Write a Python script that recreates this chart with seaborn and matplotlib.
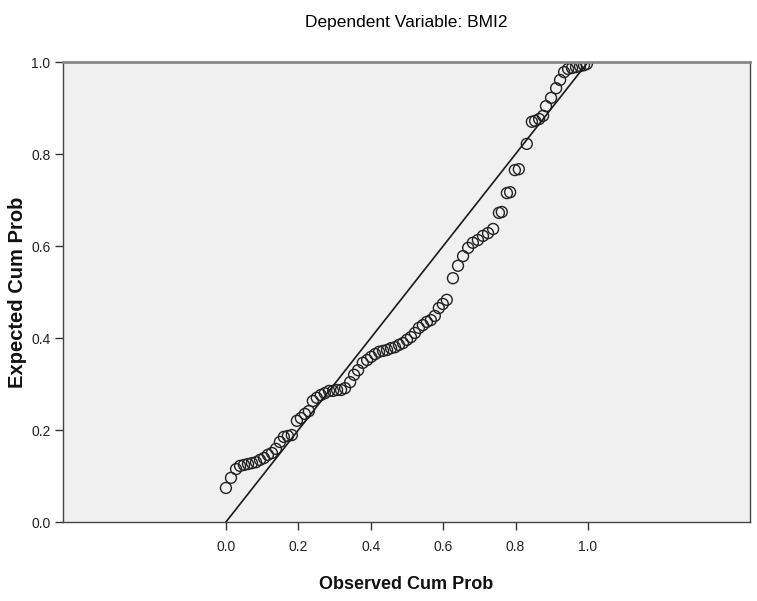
import matplotlib
matplotlib.use("Agg")
import matplotlib.pyplot as plt
import seaborn as sns
import pandas as pd

observed = [0.000, 0.014, 0.028, 0.039, 0.050, 0.061, 0.072, 0.083, 0.094, 0.105,
            0.116, 0.127, 0.138, 0.149, 0.160, 0.171, 0.182, 0.196, 0.207, 0.218,
            0.229, 0.240, 0.251, 0.262, 0.273, 0.285, 0.296, 0.307, 0.318, 0.329,
            0.343, 0.354, 0.365, 0.378, 0.390, 0.401, 0.412, 0.423, 0.434, 0.445,
            0.456, 0.467, 0.478, 0.489, 0.500, 0.511, 0.522, 0.533, 0.544, 0.555,
            0.566, 0.577, 0.588, 0.599, 0.610, 0.627, 0.641, 0.655, 0.669, 0.682,
            0.696, 0.710, 0.724, 0.738, 0.754, 0.762, 0.776, 0.785, 0.798, 0.809,
            0.831, 0.845, 0.854, 0.865, 0.876, 0.884, 0.898, 0.912, 0.923, 0.934,
            0.945, 0.956, 0.967, 0.978, 0.989, 0.997]
expected = [0.074, 0.096, 0.115, 0.122, 0.124, 0.126, 0.128, 0.130, 0.135, 0.139,
            0.146, 0.150, 0.159, 0.174, 0.185, 0.187, 0.189, 0.220, 0.226, 0.235,
            0.241, 0.263, 0.270, 0.276, 0.280, 0.285, 0.285, 0.287, 0.287, 0.291,
            0.304, 0.320, 0.330, 0.346, 0.352, 0.359, 0.365, 0.370, 0.372, 0.374,
            0.378, 0.380, 0.385, 0.389, 0.396, 0.402, 0.411, 0.422, 0.428, 0.435,
            0.439, 0.448, 0.465, 0.474, 0.483, 0.530, 0.557, 0.578, 0.596, 0.607,
            0.613, 0.622, 0.628, 0.637, 0.672, 0.674, 0.715, 0.717, 0.765, 0.767,
            0.822, 0.870, 0.872, 0.876, 0.883, 0.904, 0.922, 0.943, 0.961, 0.978,
            0.985, 0.987, 0.989, 0.991, 0.993, 0.996]
ref_line = [0.0, 1.0]
x_ticks = [0.0, 0.2, 0.4, 0.6, 0.8, 1.0]
y_ticks = [0.0, 0.2, 0.4, 0.6, 0.8, 1.0]

sns.set_style("ticks")
plt.rcParams["font.family"] = ["Liberation Sans", "DejaVu Sans"]

df = pd.DataFrame({"obs": observed, "exp": expected})
ref = pd.DataFrame({"x": ref_line, "y": ref_line})

fig = plt.figure(figsize=(7.57, 6.01), dpi=100)
ax = fig.add_axes([63 / 757, 79 / 601, 687 / 757, 460 / 601])
ax.set_facecolor("#F0F0F0")

sns.lineplot(data=ref, x="x", y="y", ax=ax, color="#1a1a1a", linewidth=1.2)
sns.scatterplot(data=df, x="obs", y="exp", ax=ax, s=62, marker="o",
                facecolors="none", edgecolor="#222222", linewidth=1.0)

ax.set_xlim(-0.450, 1.4475)
ax.set_ylim(0, 1)
ax.set_xticks(x_ticks)
ax.set_yticks(y_ticks)
ax.set_xticklabels([f"{v:.1f}" for v in x_ticks])
ax.set_yticklabels([f"{v:.1f}" for v in y_ticks])
ax.tick_params(axis="both", direction="out", length=6, width=1.0, color="#333333",
               labelsize=10, labelcolor="#222222")
ax.tick_params(axis="x", pad=7)
ax.tick_params(axis="y", pad=3)
for sp in ax.spines.values():
    sp.set_visible(True)
    sp.set_color("#444444")
    sp.set_linewidth(1.0)
ax.spines["top"].set_color("#888888")
ax.spines["top"].set_linewidth(2.0)

ax.set_title("Dependent Variable: BMI2", fontsize=12.5, color="#000000", pad=25)
ax.set_xlabel("Observed Cum Prob", fontsize=13, fontweight="bold", color="#111111")
ax.xaxis.set_label_coords(0.5, -54 / 460)
ax.set_ylabel("Expected Cum Prob", fontsize=14.5, fontweight="bold", color="#111111")
ax.yaxis.set_label_coords(-36 / 687, 0.5)

fig.savefig("out.png", dpi=100)
